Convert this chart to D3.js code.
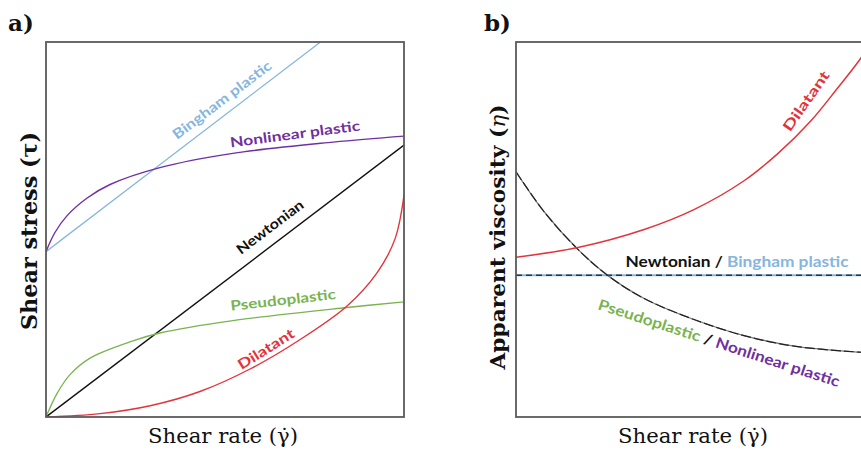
<!DOCTYPE html>
<html>
<head>
<meta charset="utf-8">
<script src="https://cdn.jsdelivr.net/npm/d3@7"></script>
<style>
  body { margin: 0; background: #fff; }
  svg { display: block; }
</style>
</head>
<body>
<div id="chart-area"></div>
<script>
// panel a: shear stress vs shear rate (normalised units)
const newtonianA = [[0, 0], [1, 0.725]]
const binghamA = [[0, 0.441], [1, 1.17]]
const nonlinearA = [[0, 0.441], [0.025, 0.492], [0.059, 0.537], [0.115, 0.584],
  [0.179, 0.620], [0.318, 0.665], [0.522, 0.703], [0.802, 0.733], [1, 0.749]]
const pseudoA = [[0, 0], [0.031, 0.063], [0.067, 0.113], [0.123, 0.157],
  [0.243, 0.203], [0.318, 0.224], [0.522, 0.257], [0.841, 0.292], [1, 0.307]]
const dilatantA = [[0, 0], [0.151, 0.009], [0.291, 0.030], [0.430, 0.068], [0.570, 0.128],
  [0.709, 0.206], [0.841, 0.296], [0.925, 0.385], [0.975, 0.475], [1, 0.591]]

// panel b: apparent viscosity vs shear rate
const newtonianB = [[0, 0.378], [1, 0.378]]
const pseudoB = [[0, 0.654], [0.078, 0.548], [0.173, 0.447], [0.257, 0.377], [0.358, 0.316],
  [0.497, 0.260], [0.637, 0.217], [0.777, 0.189], [0.958, 0.173], [1, 0.171]]
const dilatantB = [[0, 0.426], [0.173, 0.452], [0.358, 0.500], [0.497, 0.553], [0.637, 0.630],
  [0.732, 0.703], [0.824, 0.790], [0.899, 0.878], [0.958, 0.950], [1, 1.01]]

const SVG_WIDTH = 861
const SVG_HEIGHT = 452

const BLUE = "#86b6df"
const PURPLE = "#7030a0"
const GREEN = "#7ab34f"
const RED = "#e2343b"
const LABEL_FONT = "Lato, 'Open Sans', sans-serif"
const TITLE_FONT = "'DejaVu Serif', 'Liberation Serif', serif"

const svg = d3.select("#chart-area").append("svg")
  .attr("width", SVG_WIDTH)
  .attr("height", SVG_HEIGHT)

const xA = d3.scaleLinear().domain([0, 1]).range([46, 404])
const xB = d3.scaleLinear().domain([0, 1]).range([516, 874])
const y = d3.scaleLinear().domain([0, 1]).range([417, 42])

function panel(id, x) {
  const [x0, x1] = x.range()
  const [y1, y0] = y.range()
  svg.append("clipPath").attr("id", id)
    .append("rect")
    .attr("x", x0).attr("y", y0)
    .attr("width", x1 - x0).attr("height", y1 - y0)
  const g = svg.append("g").attr("clip-path", `url(#${id})`)
  return g
}

function drawLine(g, x, data, color, width, dash) {
  const line = d3.line()
    .x(d => x(d[0]))
    .y(d => y(d[1]))
    .curve(d3.curveCatmullRom.alpha(0.5))
  g.append("path")
    .datum(data)
    .attr("fill", "none")
    .attr("stroke", color)
    .attr("stroke-width", width)
    .attr("stroke-dasharray", dash || null)
    .attr("d", line)
}

function frame(x) {
  const [x0, x1] = x.range()
  const [y1, y0] = y.range()
  svg.append("rect")
    .attr("x", x0).attr("y", y0)
    .attr("width", x1 - x0).attr("height", y1 - y0)
    .attr("fill", "none")
    .attr("stroke", "#5a5a5a")
    .attr("stroke-width", 1.8)
}

function label(txt, cx, cy, angle, color, len, size) {
  return svg.append("text")
    .attr("transform", `translate(${cx},${cy}) rotate(${angle})`)
    .attr("text-anchor", "middle")
    .attr("dy", "0.35em")
    .attr("font-family", LABEL_FONT)
    .attr("font-weight", "bold")
    .attr("font-size", size || 14)
    .attr("fill", color)
    .attr("textLength", len)
    .attr("lengthAdjust", "spacingAndGlyphs")
    .text(txt)
}

// ---- panel a
const gA = panel("clipA", xA)
drawLine(gA, xA, binghamA, BLUE, 1.3)
drawLine(gA, xA, nonlinearA, PURPLE, 1.4)
drawLine(gA, xA, newtonianA, "#111", 1.4)
drawLine(gA, xA, pseudoA, GREEN, 1.3)
drawLine(gA, xA, dilatantA, RED, 1.4)
frame(xA)

label("Bingham plastic", 222, 100, -37, BLUE, 120)
label("Nonlinear plastic", 295, 134, -7.5, PURPLE, 131)
label("Newtonian", 270, 227, -37, "#111", 80)
label("Pseudoplastic", 283, 300, -6.5, GREEN, 106)
label("Dilatant", 266, 349, -32, RED, 64)

// ---- panel b
const gB = panel("clipB", xB)
drawLine(gB, xB, newtonianB, BLUE, 2)
drawLine(gB, xB, newtonianB, "#333", 1.4, "6,4")
drawLine(gB, xB, pseudoB, "#7a7a7a", 1.3)
drawLine(gB, xB, pseudoB, "#222", 1.2, "10,3")
drawLine(gB, xB, dilatantB, RED, 1.5)
frame(xB)

label("Dilatant", 806, 101, -55, RED, 70)

const nb = svg.append("text")
  .attr("x", 737).attr("y", 267)
  .attr("text-anchor", "middle")
  .attr("font-family", LABEL_FONT)
  .attr("font-weight", "bold")
  .attr("font-size", 15)
  .attr("textLength", 223)
  .attr("lengthAdjust", "spacingAndGlyphs")
nb.append("tspan").attr("fill", "#111").text("Newtonian / ")
nb.append("tspan").attr("fill", BLUE).text("Bingham plastic")

const pn = svg.append("text")
  .attr("transform", "translate(719,343) rotate(18)")
  .attr("text-anchor", "middle")
  .attr("dy", "0.35em")
  .attr("font-family", LABEL_FONT)
  .attr("font-weight", "bold")
  .attr("font-size", 15)
  .attr("textLength", 253)
  .attr("lengthAdjust", "spacingAndGlyphs")
pn.append("tspan").attr("fill", GREEN).text("Pseudoplastic ")
pn.append("tspan").attr("fill", "#111").text("/ ")
pn.append("tspan").attr("fill", PURPLE).text("Nonlinear plastic")

// ---- titles
function title(txt, cx, cy, angle, len, bold, size) {
  return svg.append("text")
    .attr("transform", `translate(${cx},${cy}) rotate(${angle})`)
    .attr("text-anchor", "middle")
    .attr("font-family", TITLE_FONT)
    .attr("font-weight", bold ? "bold" : "normal")
    .attr("font-size", size)
    .attr("fill", "#111")
    .attr("textLength", len)
    .attr("lengthAdjust", "spacingAndGlyphs")
    .text(txt)
}

title("Shear stress (τ)", 37, 231, -90, 198, true, 22)
const av = title("", 505, 237, -90, 265, true, 21)
av.append("tspan").text("Apparent viscosity (")
av.append("tspan").attr("font-style", "italic").attr("font-weight", "normal").text("η")
av.append("tspan").text(")")

title("Shear rate  (\u03B3\u0307)", 223, 443, 0, 150, false, 21)
title("Shear rate  (\u03B3\u0307)", 693, 443, 0, 150, false, 21)

svg.append("text")
  .attr("x", 8).attr("y", 31)
  .attr("font-family", TITLE_FONT)
  .attr("font-weight", "bold")
  .attr("font-size", 23)
  .attr("fill", "#111")
  .text("a)")

svg.append("text")
  .attr("x", 484).attr("y", 31)
  .attr("font-family", TITLE_FONT)
  .attr("font-weight", "bold")
  .attr("font-size", 23)
  .attr("fill", "#111")
  .text("b)")
</script>
</body>
</html>
